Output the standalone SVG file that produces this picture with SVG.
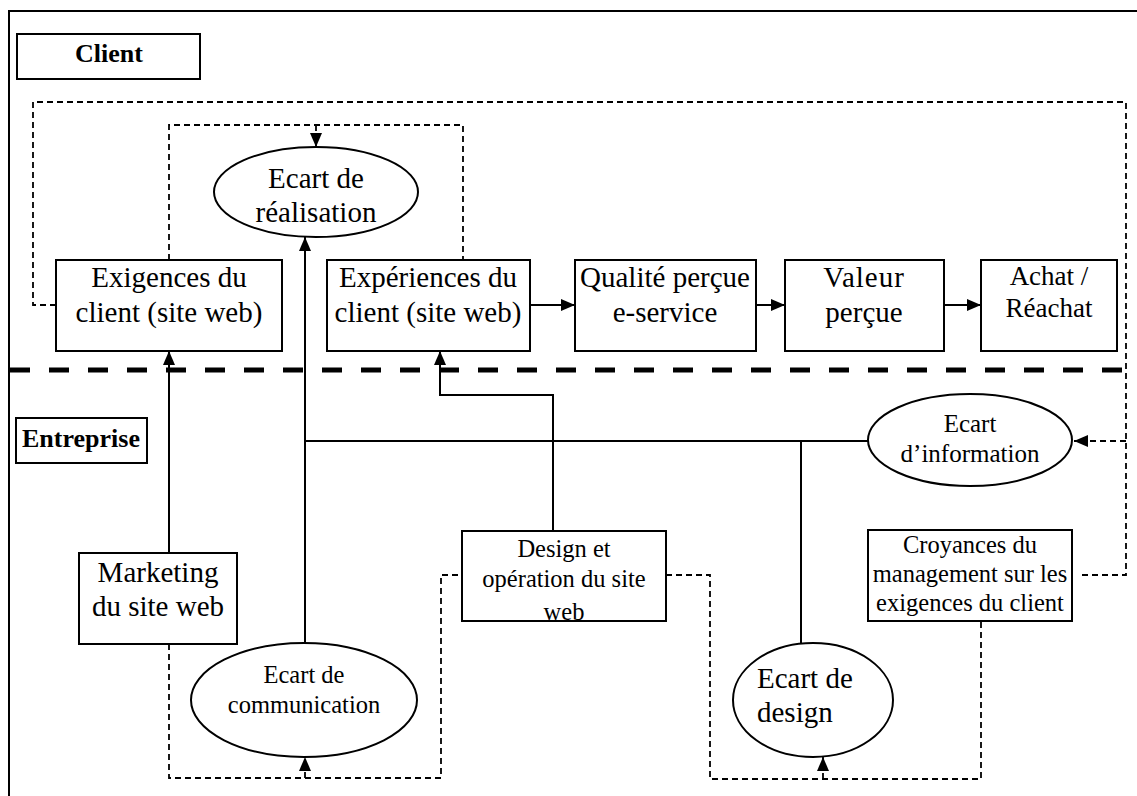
<svg xmlns="http://www.w3.org/2000/svg" width="1137" height="796" viewBox="0 0 1137 796">
<style>
.box{fill:#fff;stroke:#000;stroke-width:2}
.ell{fill:#fff;stroke:#000;stroke-width:2}
.ln{fill:none;stroke:#000;stroke-width:2}
.dl{fill:none;stroke:#000;stroke-width:1.8;stroke-dasharray:6,4}
.t{font-family:"Liberation Serif","Times New Roman",serif;fill:#000;text-anchor:middle}
.s{text-anchor:start}
.b{font-weight:bold}
</style>
<defs>
<marker id="ah" markerUnits="userSpaceOnUse" markerWidth="16" markerHeight="14" refX="14" refY="6" orient="auto">
<path d="M0,0 L14,6 L0,12 Z" fill="#000"/>
</marker>
</defs>
<rect x="0" y="0" width="1137" height="796" fill="#fff"/>
<path d="M9,796 V11 H1137" fill="none" stroke="#000" stroke-width="2"/>
<line x1="10" y1="370" x2="1137" y2="370" stroke="#000" stroke-width="5" stroke-dasharray="20,19"/>

<g id="connectors">
<polyline class="dl" points="56,305 33,305 33,102 1126,102 1126,575 1080,575"/>
<polyline class="dl" points="1126,441 1074,441" marker-end="url(#ah)"/>
<polyline class="dl" points="169,260 169,125 463,125 463,260"/>
<polyline class="dl" points="316,125 316,147" marker-end="url(#ah)"/>
<polyline class="ln" points="530,305 575,305" marker-end="url(#ah)"/>
<polyline class="ln" points="756,305 785,305" marker-end="url(#ah)"/>
<polyline class="ln" points="940,305 981,305" marker-end="url(#ah)"/>
<polyline class="ln" points="169,553 169,351" marker-end="url(#ah)"/>
<polyline class="ln" points="305,643 305,237" marker-end="url(#ah)"/>
<polyline class="ln" points="305,441 868,441"/>
<polyline class="ln" points="553,530 553,395 440,395 440,351" marker-end="url(#ah)"/>
<polyline class="ln" points="801,441 801,643"/>
<polyline class="dl" points="169,644 169,778 441,778 441,575 462,575"/>
<polyline class="dl" points="305,778 305,757" marker-end="url(#ah)"/>
<polyline class="dl" points="666,575 710,575 710,779 981,779 981,621"/>
<polyline class="dl" points="823,779 823,757" marker-end="url(#ah)"/>
</g>

<g id="client-label">
<rect class="box" x="17" y="34" width="183" height="45"/>
<text class="t b" x="109" y="62" font-size="26">Client</text>
</g>
<g id="entreprise-label">
<rect class="box" x="16" y="418" width="131" height="45"/>
<text class="t b" x="81" y="447" font-size="26">Entreprise</text>
</g>

<g id="ecart-realisation">
<ellipse class="ell" cx="316" cy="192" rx="102" ry="45"/>
<text class="t" x="316" y="188" font-size="29">Ecart de</text>
<text class="t" x="316" y="222" font-size="29">réalisation</text>
</g>
<g id="exigences">
<rect class="box" x="56" y="260" width="226" height="91"/>
<text class="t" x="169" y="287" font-size="29">Exigences du</text>
<text class="t" x="169" y="322" font-size="29">client (site web)</text>
</g>
<g id="experiences">
<rect class="box" x="327" y="260" width="203" height="91"/>
<text class="t" x="428" y="287" font-size="29">Expériences du</text>
<text class="t" x="428" y="322" font-size="29">client (site web)</text>
</g>
<g id="qualite">
<rect class="box" x="575" y="260" width="181" height="91"/>
<text class="t" x="665" y="287" font-size="29">Qualité perçue</text>
<text class="t" x="665" y="322" font-size="29">e-service</text>
</g>
<g id="valeur">
<rect class="box" x="785" y="260" width="159" height="91"/>
<text class="t" x="864" y="287" font-size="29" letter-spacing="1">Valeur</text>
<text class="t" x="864" y="322" font-size="29">perçue</text>
</g>
<g id="achat">
<rect class="box" x="981" y="260" width="136" height="91"/>
<text class="t" x="1049" y="285" font-size="27">Achat /</text>
<text class="t" x="1049" y="317" font-size="27">Réachat</text>
</g>
<g id="ecart-information">
<ellipse class="ell" cx="970" cy="440" rx="102" ry="46"/>
<text class="t" x="970" y="432" font-size="25">Ecart</text>
<text class="t" x="970" y="462" font-size="25">d’information</text>
</g>
<g id="marketing">
<rect class="box" x="79" y="553" width="158" height="91"/>
<text class="t" x="158" y="582" font-size="29">Marketing</text>
<text class="t" x="158" y="616" font-size="29">du site web</text>
</g>
<g id="design-operation">
<text class="t" x="564" y="557" font-size="24.5">Design et</text>
<text class="t" x="564" y="587" font-size="24.5">opération du site</text>
<text class="t" x="564" y="620" font-size="24.5">web</text>
<rect x="462" y="531" width="204" height="90" fill="none" stroke="#000" stroke-width="2"/>
</g>
<g id="croyances">
<rect class="box" x="868" y="530" width="204" height="91"/>
<text class="t" x="970" y="553" font-size="24.5">Croyances du</text>
<text class="t" x="970" y="582" font-size="24.5">management sur les</text>
<text class="t" x="970" y="611" font-size="24.5">exigences du client</text>
</g>
<g id="ecart-communication">
<ellipse class="ell" cx="304" cy="700" rx="113" ry="57"/>
<text class="t" x="304" y="683" font-size="24.5">Ecart de</text>
<text class="t" x="304" y="713" font-size="24.5">communication</text>
</g>
<g id="ecart-design">
<ellipse class="ell" cx="813" cy="700" rx="80" ry="57"/>
<text class="t s" x="757" y="688" font-size="29">Ecart de</text>
<text class="t s" x="757" y="722" font-size="29">design</text>
</g>
</svg>
